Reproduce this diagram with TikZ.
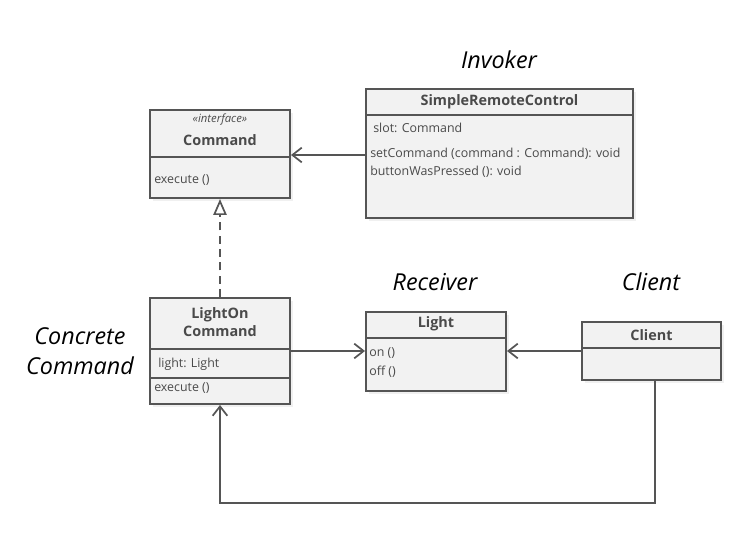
\documentclass[tikz,border=0pt]{standalone}
\usepackage{fontspec}
\setmainfont{Open Sans}
\usetikzlibrary{arrows.meta,shadows}
\definecolor{boxfill}{HTML}{F2F2F2}
\definecolor{boxline}{HTML}{555555}
\definecolor{txt}{HTML}{4A4A4A}
\tikzset{
  umlbox/.style={draw=boxline, line width=1.5pt, fill=boxfill, rectangle, inner sep=0pt,
    drop shadow={opacity=0.12, shadow xshift=2pt, shadow yshift=-2pt}},
  divline/.style={draw=boxline, line width=1.5pt},
  head/.style={font=\fontsize{10.8}{14}\selectfont\bfseries, text=txt, inner sep=0pt, align=center},
  memb/.style={font=\fontsize{9.3}{11}\selectfont, text=txt, inner sep=0pt, anchor=west},
  stereo/.style={font=\fontsize{8.5}{10}\selectfont\itshape, text=txt, inner sep=0pt},
  role/.style={font=\fontsize{17.5}{23}\selectfont\itshape, text=black, inner sep=0pt, align=center},
  assoc/.style={draw=boxline, line width=1.5pt, -{Straight Barb[length=7pt,width=11pt,line width=1.3pt]}},
  realiz/.style={draw=boxline, line width=1.5pt, dashed, dash pattern=on 6pt off 4pt,
    -{Triangle[open,length=12pt,width=10pt,fill=white,line width=1.3pt]}},
}
\begin{document}
\begin{tikzpicture}[x=0.75pt,y=-0.75pt]
\useasboundingbox (0,0) rectangle (742,559);

% Command interface
\node[umlbox, minimum width=105pt, minimum height=66pt] (cmd) at (220,154) {};
\draw[divline] (150,157) -- (290,157);
\node[stereo] (cmdst) at (220,120) {«interface»};
\node[head] (cmdname) at (220,140) {Command};
\node[memb] (cmdexec) at (154,180) {execute ()};

% SimpleRemoteControl
\node[umlbox, minimum width=200.25pt, minimum height=96.75pt] (src) at (499.5,153.5) {};
\draw[divline] (366,115) -- (633,115);
\node[head] (srcname) at (499.5,102) {SimpleRemoteControl};
\node[memb] (srcslot) at (373,128) {slot: Command};
\node[memb] (srcset) at (370,154) {setCommand (command : Command): void};
\node[memb] (srcbtn) at (370,172) {buttonWasPressed (): void};

% LightOnCommand
\node[umlbox, minimum width=105pt, minimum height=79.5pt] (loc) at (220,351) {};
\draw[divline] (150,349) -- (290,349);
\draw[divline] (150,378) -- (290,378);
\node[head] (locname) at (220,322) {LightOn\\Command};
\node[memb] (loclight) at (158,364) {light: Light};
\node[memb] (locexec) at (154,388) {execute ()};

% Light
\node[umlbox, minimum width=105pt, minimum height=59.25pt] (light) at (436,351.5) {};
\draw[divline] (366,338) -- (506,338);
\node[head] (lightname) at (436,324) {Light};
\node[memb] (lighton) at (369,353) {on ()};
\node[memb] (lightoff) at (369,372) {off ()};

% Client
\node[umlbox, minimum width=104.25pt, minimum height=43.5pt] (client) at (651.5,351) {};
\draw[divline] (582,348) -- (721,348);
\node[head] (clientname) at (651.5,335) {Client};

% role labels
\node[role] (invoker) at (499,60) {Invoker};
\node[role] (receiver) at (435,282) {Receiver};
\node[role] (clientlbl) at (651,282) {Client};
\node[role] (concrete) at (80,351) {Concrete\\Command};

% connectors
\draw[assoc] (src.west |- 0,155) -- (cmd.east |- 0,155);
\draw[realiz] (loc.north) -- (cmd.south);
\draw[assoc] (loc.east |- 0,351) -- (light.west |- 0,351);
\draw[assoc] (client.west |- 0,351) -- (light.east |- 0,351);
\coordinate (c1) at (655,503);
\coordinate (c2) at (220,503);
\draw[assoc] (client.south -| c1) -- (c1) -- (c2) -- (loc.south);
\end{tikzpicture}
\end{document}
